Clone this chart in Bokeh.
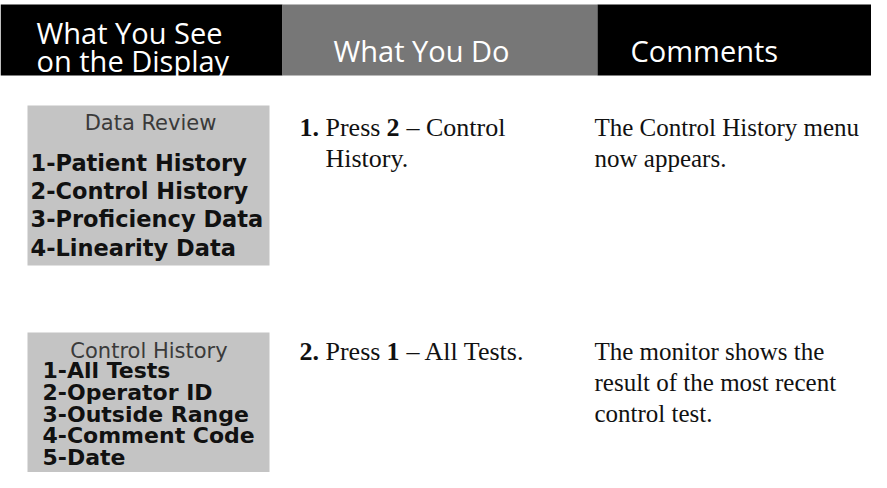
from bokeh.plotting import figure
from bokeh.models import Range1d
from bokeh.core.properties import value
from bokeh.embed import file_html
from bokeh.resources import INLINE

# ---------------- content ----------------
header_lines = [["What You See", "on the Display"], ["What You Do"], ["Comments"]]
screen_titles = ["Data Review", "Control History"]
screen_items = [
    ["1-Patient History", "2-Control History", "3-Proficiency Data", "4-Linearity Data"],
    ["1-All Tests", "2-Operator ID", "3-Outside Range", "4-Comment Code", "5-Date"],
]
step_numbers = ["1.", "2."]
step_keys = ["2", "1"]
step_rest = [["– Control", "History."], ["– All Tests."]]
comments = [
    ["The Control History menu", "now appears."],
    ["The monitor shows the", "result of the most recent", "control test."],
]

# ---------------- layout (page pixel coordinates) ----------------
W, H = 887, 488
FW, FH = W - 16, H - 16
p = figure(width=FW, height=FH, output_backend="svg", toolbar_location=None,
           x_range=Range1d(0, FW), y_range=Range1d(FH, 0),
           x_axis_location=None, y_axis_location=None, min_border=0,
           outline_line_color=None, background_fill_color="white")
p.grid.visible = False

# header band
hdr_left = [0, 282, 597]
hdr_right = [282, 597, 887]
hdr_fill = ["#000000", "#777777", "#000000"]
p.quad(left=hdr_left, right=hdr_right, top=[4] * 3, bottom=[75] * 3,
       fill_color=hdr_fill, line_color=None)

HF = value("Open Sans")
hx, hy, htxt = [], [], []
for i, t in enumerate(header_lines[0]):
    htxt.append(t); hx.append(36); hy.append(32 + 28 * i)
htxt.append(header_lines[1][0]); hx.append(421); hy.append(50)
htxt.append(header_lines[2][0]); hx.append(630); hy.append(50)
align = ["left", "left", "center", "left"]
p.text(x=hx, y=hy, text=htxt, text_align=align, text_baseline="alphabetic",
       text_color="white", text_font=HF, text_font_size="29px")

# screen boxes
box_top = [105, 332]
box_bot = [265, 487]
p.quad(left=[27, 27], right=[269, 269], top=box_top, bottom=box_bot,
       fill_color="#c4c4c4", line_color=None)

SF = value("DejaVu Sans")
p.text(x=[150, 148.5], y=[122, 350], text=screen_titles, text_align="center",
       text_baseline="alphabetic", text_color="#3a3a3a", text_font=SF,
       text_font_size="21px")

item_left = [30, 42]
item_first = [162, 370]
item_step = [28.4, 21.8]
item_size = ["22.5px", "22px"]
for b, items in enumerate(screen_items):
    ix = [item_left[b]] * len(items)
    iy = [item_first[b] + item_step[b] * j for j in range(len(items))]
    p.text(x=ix, y=iy, text=items, text_baseline="alphabetic", text_color="#111111",
           text_font=SF, text_font_size=item_size[b], text_font_style="bold")

# steps (Times-like serif)
TF = value("Liberation Serif")
row_base = [127, 351]
LS = 31
bx, by, bt = [], [], []
rx, ry, rt = [], [], []
for r in range(2):
    y0 = row_base[r]
    bx += [299, 386]; by += [y0, y0]; bt += [step_numbers[r], step_keys[r]]
    rx += [325]; ry += [y0]; rt += ["Press"]
    rx += [406]; ry += [y0]; rt += [step_rest[r][0]]
    for k, s in enumerate(step_rest[r][1:]):
        rx.append(325); ry.append(y0 + LS * (k + 1)); rt.append(s)

p.text(x=bx, y=by, text=bt, text_baseline="alphabetic", text_color="#111111",
       text_font=TF, text_font_size="26px", text_font_style="bold")
p.text(x=rx, y=ry, text=rt, text_baseline="alphabetic", text_color="#111111",
       text_font=TF, text_font_size="26px")

cx, cy, ct = [], [], []
for r in range(2):
    for k, s in enumerate(comments[r]):
        cx.append(594); cy.append(row_base[r] + LS * k); ct.append(s)
p.text(x=cx, y=cy, text=ct, text_baseline="alphabetic", text_color="#111111",
       text_font=TF, text_font_size="25px")

open("out.html", "w").write(file_html(p, INLINE))
